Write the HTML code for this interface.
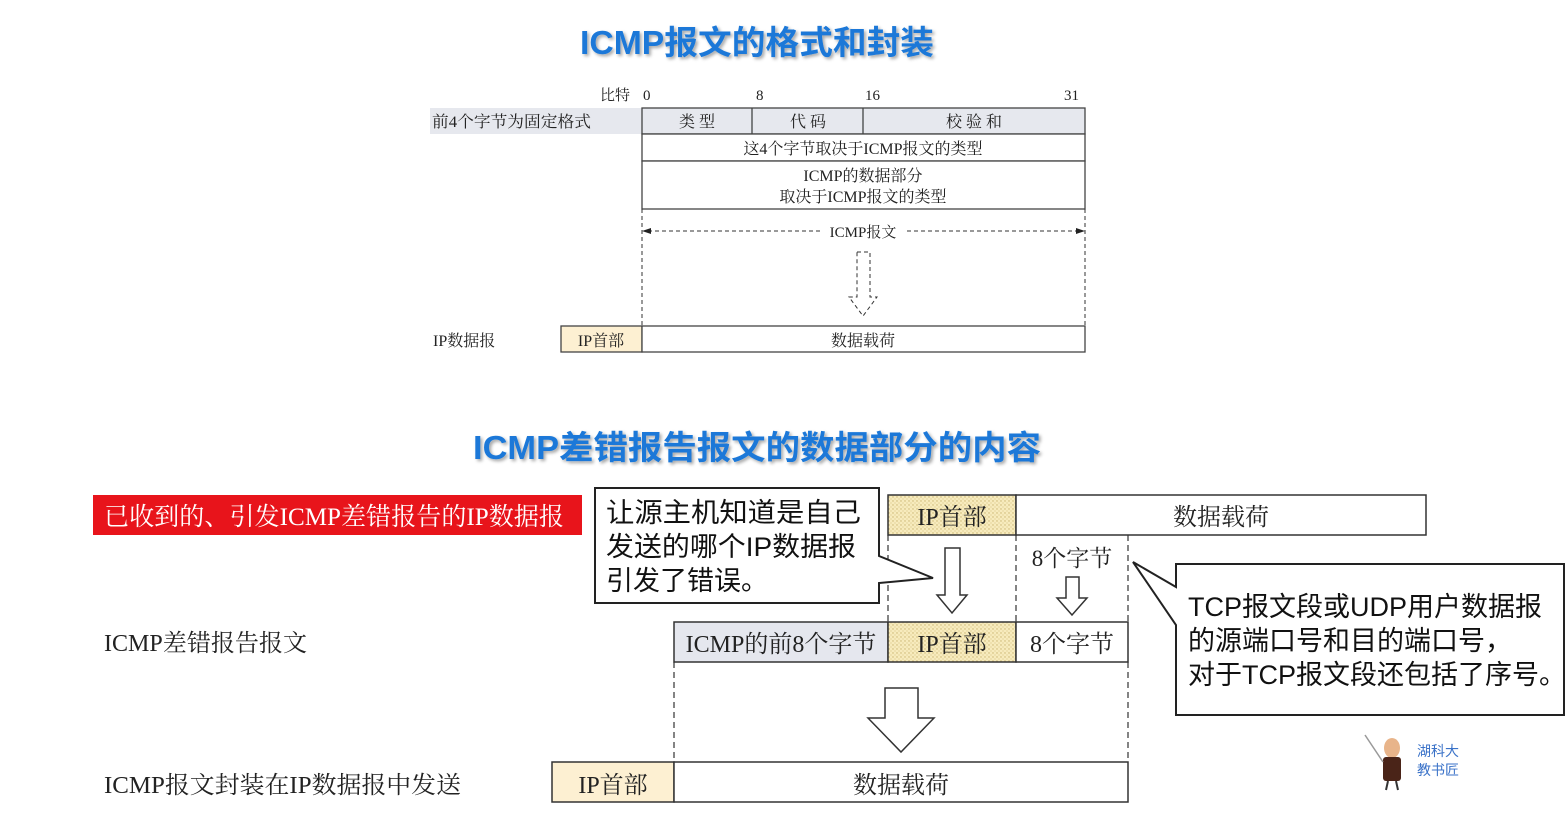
<!DOCTYPE html>
<html><head><meta charset="utf-8"><style>
html,body{margin:0;padding:0;background:#fff;width:1566px;height:827px;overflow:hidden}
svg{display:block}
.s{font-family:"Liberation Serif","Noto Serif CJK SC",serif;fill:#222}
.a{font-family:"Liberation Sans","Noto Sans CJK SC",sans-serif;fill:#111}
.t{font-family:"Liberation Sans","Noto Sans CJK SC",sans-serif;font-weight:bold;fill:#1a78d8}
</style></head><body>
<svg width="1566" height="827" viewBox="0 0 1566 827" xmlns="http://www.w3.org/2000/svg">
<defs>
<pattern id="dot" width="4" height="4" patternUnits="userSpaceOnUse">
<rect width="4" height="4" fill="#f7ebbd"/><circle cx="1" cy="1" r="0.7" fill="#c9b370"/><circle cx="3" cy="3" r="0.6" fill="#d8c68a"/>
</pattern>
<filter id="sh"><feDropShadow dx="2" dy="2" stdDeviation="1.5" flood-color="#000" flood-opacity="0.35"/></filter>
</defs>
<text class="t" x="757" y="54" font-size="33" text-anchor="middle" filter="url(#sh)" textLength="354" lengthAdjust="spacingAndGlyphs">ICMP报文的格式和封装</text>
<g class="s" font-size="15">
<text x="600" y="100">比特</text><text x="643" y="100">0</text><text x="756" y="100">8</text><text x="865" y="100">16</text><text x="1064" y="100">31</text>
</g>
<rect x="430" y="108" width="212" height="26" fill="#e6e8ee"/>
<text class="s" x="432" y="127" font-size="16" textLength="159" lengthAdjust="spacingAndGlyphs">前4个字节为固定格式</text>
<g stroke="#444" stroke-width="1.3">
<rect x="642" y="108" width="443" height="26" fill="#e6e8ee"/>
<line x1="752" y1="108" x2="752" y2="134"/><line x1="863" y1="108" x2="863" y2="134"/>
<rect x="642" y="134" width="443" height="27" fill="#fff"/>
<rect x="642" y="161" width="443" height="48" fill="#fff"/>
</g>
<g class="s" font-size="16" text-anchor="middle">
<text x="697" y="127">类 型</text><text x="808" y="127">代 码</text><text x="974" y="127">校 验 和</text>
<text x="863" y="154">这4个字节取决于ICMP报文的类型</text>
<text x="863" y="181">ICMP的数据部分</text><text x="863" y="202">取决于ICMP报文的类型</text>
</g>
<g stroke="#333" stroke-width="1" stroke-dasharray="4,3" fill="none">
<line x1="642" y1="209" x2="642" y2="326"/><line x1="1085" y1="209" x2="1085" y2="326"/>
<line x1="648" y1="231" x2="820" y2="231"/><line x1="907" y1="231" x2="1079" y2="231"/>
<path d="M857 252 H870 V297 H877 L863 316 L849 297 H857 Z"/>
</g>
<path d="M642 231 L651 228 L651 234 Z M1085 231 L1076 228 L1076 234 Z" fill="#222"/>
<text class="s" x="863" y="237" font-size="15" text-anchor="middle">ICMP报文</text>
<text class="s" x="433" y="346" font-size="16">IP数据报</text>
<g stroke="#444" stroke-width="1.3">
<rect x="561" y="326" width="81" height="26" fill="#fdf0d2"/>
<rect x="642" y="326" width="443" height="26" fill="#fff"/>
</g>
<text class="s" x="601" y="346" font-size="16" text-anchor="middle">IP首部</text>
<text class="s" x="863" y="346" font-size="16" text-anchor="middle">数据载荷</text>
<text class="t" x="757" y="459" font-size="33" text-anchor="middle" filter="url(#sh)" textLength="568" lengthAdjust="spacingAndGlyphs">ICMP差错报告报文的数据部分的内容</text>
<rect x="93" y="495" width="489" height="40" fill="#e8141b"/>
<text class="s" x="104" y="525" font-size="25" style="fill:#fff" textLength="460" lengthAdjust="spacingAndGlyphs">已收到的、引发ICMP差错报告的IP数据报</text>
<text class="s" x="104" y="651" font-size="24" textLength="203" lengthAdjust="spacingAndGlyphs">ICMP差错报告报文</text>
<text class="s" x="104" y="793" font-size="24" textLength="357" lengthAdjust="spacingAndGlyphs">ICMP报文封装在IP数据报中发送</text>
<g stroke="#333" stroke-width="1.5">
<rect x="888" y="495" width="128" height="40" fill="url(#dot)"/>
<rect x="1016" y="495" width="410" height="40" fill="#fff"/>
</g>
<text class="s" x="952" y="525" font-size="24" text-anchor="middle">IP首部</text>
<text class="s" x="1221" y="525" font-size="24" text-anchor="middle">数据载荷</text>
<g stroke="#333" stroke-width="1.2" stroke-dasharray="6,4">
<line x1="888" y1="535" x2="888" y2="622"/><line x1="1016" y1="535" x2="1016" y2="622"/><line x1="1128" y1="535" x2="1128" y2="622"/>
<line x1="674" y1="662" x2="674" y2="762"/><line x1="1128" y1="662" x2="1128" y2="762"/>
</g>
<text class="s" x="1072" y="566" font-size="23" text-anchor="middle">8个字节</text>
<g stroke="#333" stroke-width="1.5" fill="#fff">
<path d="M945 548 H960 V595 H967 L952 613 L937 595 H945 Z"/>
<path d="M1066 577 H1079 V598 H1087 L1072 615 L1057 598 H1066 Z"/>
<path d="M885 688 H918 V718 H934 L901 752 L868 718 H885 Z"/>
</g>
<path d="M595 488 H879 V556 L933 578 L879 583 V603 H595 Z" fill="#fff" stroke="#222" stroke-width="2"/>
<g class="a" font-size="27">
<text x="606" y="522" textLength="255" lengthAdjust="spacingAndGlyphs">让源主机知道是自己</text><text x="606" y="556" textLength="250" lengthAdjust="spacingAndGlyphs">发送的哪个IP数据报</text><text x="606" y="590">引发了错误。</text>
</g>
<g stroke="#333" stroke-width="1.5">
<rect x="674" y="622" width="214" height="40" fill="#e5e7ee"/>
<rect x="888" y="622" width="128" height="40" fill="url(#dot)"/>
<rect x="1016" y="622" width="112" height="40" fill="#fff"/>
</g>
<g class="s" font-size="24" text-anchor="middle">
<text x="781" y="652">ICMP的前8个字节</text><text x="952" y="652">IP首部</text><text x="1072" y="652">8个字节</text>
</g>
<g stroke="#333" stroke-width="1.5">
<rect x="552" y="762" width="122" height="40" fill="#fdf0d2"/>
<rect x="674" y="762" width="454" height="40" fill="#fff"/>
</g>
<text class="s" x="613" y="793" font-size="24" text-anchor="middle">IP首部</text>
<text class="s" x="901" y="793" font-size="24" text-anchor="middle">数据载荷</text>
<path d="M1176 564 H1564 V715 H1176 V625 L1133 562 L1176 587 Z" fill="#fff" stroke="#222" stroke-width="2"/>
<g class="a" font-size="27">
<text x="1188" y="616">TCP报文段或UDP用户数据报</text><text x="1188" y="650">的源端口号和目的端口号，</text><text x="1188" y="684">对于TCP报文段还包括了序号。</text>
</g>
<g>
<ellipse cx="1392" cy="748" rx="8" ry="10" fill="#e8b48a"/>
<rect x="1383" y="757" width="18" height="24" rx="3" fill="#4a2418"/>
<line x1="1383" y1="762" x2="1365" y2="735" stroke="#999" stroke-width="1.5"/>
<line x1="1388" y1="781" x2="1386" y2="790" stroke="#333" stroke-width="2"/><line x1="1396" y1="781" x2="1398" y2="790" stroke="#333" stroke-width="2"/>
</g>
<text x="1417" y="756" font-size="14" font-family="'Noto Sans CJK SC',sans-serif" fill="#3a72c8">湖科大</text>
<text x="1417" y="775" font-size="14" font-family="'Noto Sans CJK SC',sans-serif" fill="#3a72c8">教书匠</text>
</svg>
</body></html>
